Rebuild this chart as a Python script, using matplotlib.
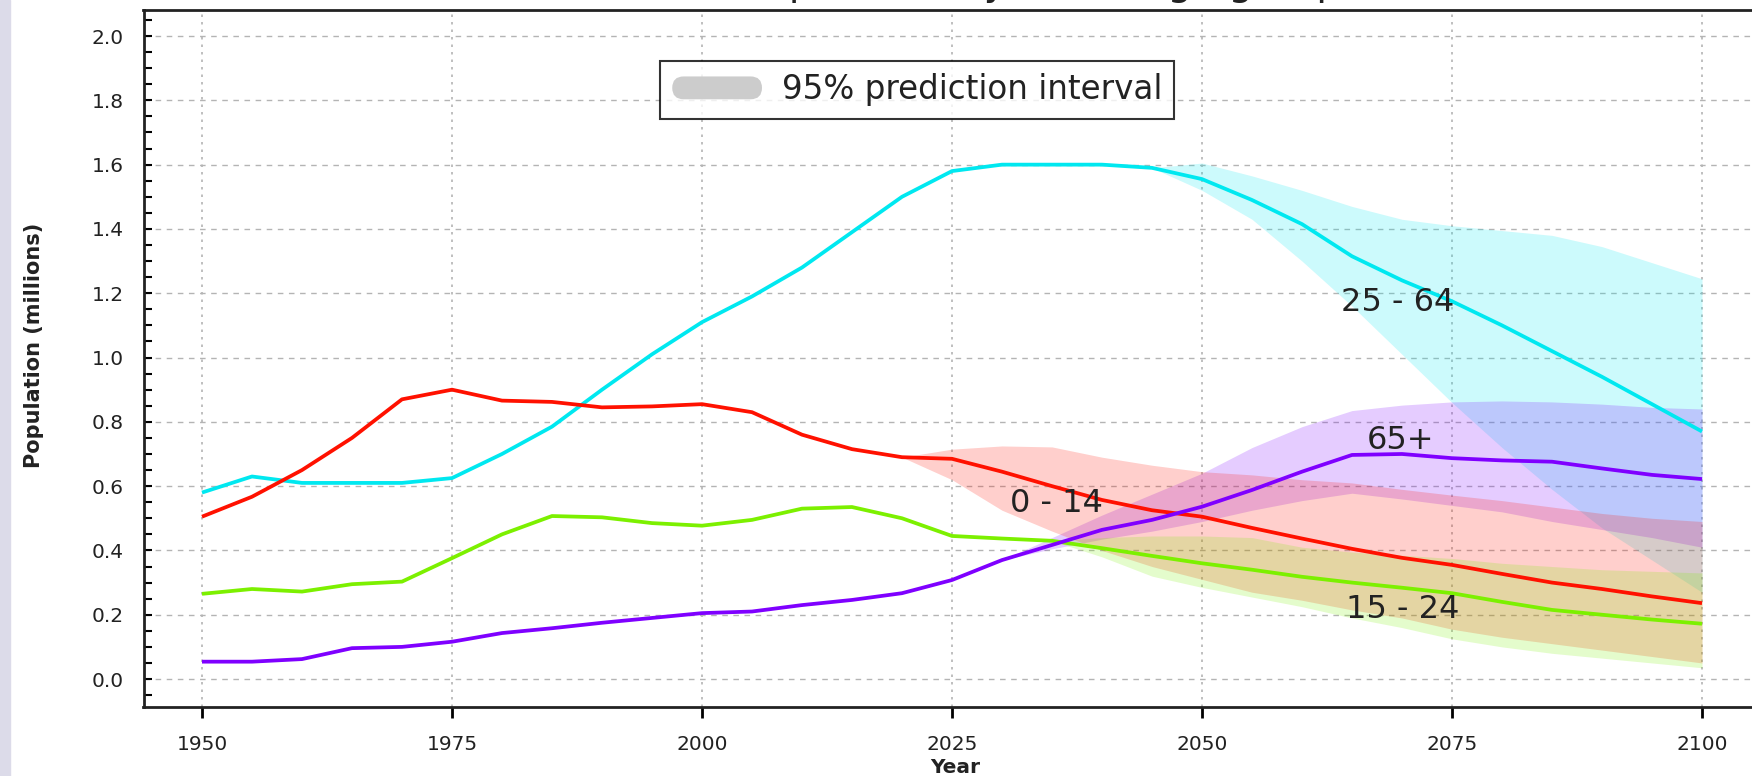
import matplotlib
matplotlib.use("Agg")
import matplotlib.pyplot as plt
from matplotlib.patches import Patch, FancyBboxPatch, Rectangle
from matplotlib.legend_handler import HandlerPatch
from matplotlib.ticker import MultipleLocator

# median projections, millions
years = list(range(1950, 2101, 5))
age_25_64 = [0.58, 0.63, 0.61, 0.61, 0.61, 0.625, 0.70, 0.785, 0.90, 1.01, 1.11,
             1.19, 1.28, 1.39, 1.50, 1.58, 1.60, 1.60, 1.60, 1.59, 1.555, 1.49,
             1.415, 1.315, 1.24, 1.175, 1.10, 1.02, 0.94, 0.855, 0.77]
age_0_14 = [0.505, 0.567, 0.65, 0.75, 0.87, 0.90, 0.866, 0.862, 0.845, 0.848, 0.855,
            0.83, 0.76, 0.715, 0.69, 0.685, 0.645, 0.60, 0.557, 0.525, 0.505, 0.47,
            0.437, 0.405, 0.377, 0.355, 0.327, 0.30, 0.28, 0.257, 0.236]
age_15_24 = [0.265, 0.28, 0.272, 0.295, 0.303, 0.376, 0.45, 0.507, 0.503, 0.485, 0.477,
             0.495, 0.53, 0.535, 0.50, 0.445, 0.437, 0.43, 0.407, 0.383, 0.36, 0.34,
             0.318, 0.30, 0.284, 0.267, 0.24, 0.215, 0.20, 0.185, 0.172]
age_65p = [0.054, 0.054, 0.062, 0.096, 0.10, 0.116, 0.143, 0.158, 0.175, 0.19, 0.205,
           0.21, 0.23, 0.246, 0.267, 0.308, 0.37, 0.417, 0.464, 0.495, 0.536, 0.588,
           0.645, 0.697, 0.70, 0.687, 0.68, 0.676, 0.655, 0.635, 0.622]

# 95% prediction intervals
pi_years_25_64 = list(range(2045, 2101, 5))
pi_lo_25_64 = [1.59, 1.52, 1.43, 1.30, 1.16, 1.01, 0.86, 0.72, 0.59, 0.47, 0.37, 0.27]
pi_hi_25_64 = [1.59, 1.605, 1.565, 1.52, 1.47, 1.43, 1.41, 1.395, 1.38, 1.345, 1.295, 1.245]

pi_years_0_14 = list(range(2020, 2101, 5))
pi_lo_0_14 = [0.69, 0.62, 0.525, 0.46, 0.40, 0.35, 0.31, 0.27, 0.245, 0.215, 0.19,
              0.155, 0.13, 0.11, 0.09, 0.07, 0.05]
pi_hi_0_14 = [0.69, 0.715, 0.725, 0.722, 0.69, 0.665, 0.645, 0.635, 0.62, 0.61, 0.59,
              0.572, 0.555, 0.535, 0.515, 0.50, 0.49]

pi_years_15_24 = list(range(2035, 2101, 5))
pi_lo_15_24 = [0.43, 0.38, 0.32, 0.285, 0.255, 0.225, 0.19, 0.16, 0.125, 0.10, 0.08,
               0.065, 0.05, 0.035]
pi_hi_15_24 = [0.43, 0.44, 0.445, 0.445, 0.44, 0.41, 0.395, 0.385, 0.375, 0.36, 0.35,
               0.34, 0.335, 0.33]

pi_years_65p = list(range(2030, 2101, 5))
pi_lo_65p = [0.37, 0.405, 0.435, 0.46, 0.49, 0.525, 0.555, 0.578, 0.56, 0.54, 0.52,
             0.49, 0.465, 0.44, 0.41]
pi_hi_65p = [0.37, 0.44, 0.51, 0.575, 0.64, 0.72, 0.785, 0.835, 0.852, 0.862, 0.865,
             0.862, 0.855, 0.845, 0.84]

CYAN = "#00e8f0"
RED = "#ff1100"
GREEN = "#7cf000"
PURPLE = "#7f00ff"
TXT = "#222222"

fig = plt.figure(figsize=(17.52, 7.76), dpi=100)
fig.patches.append(Rectangle((0, 0), 10 / 1752, 1, transform=fig.transFigure,
                             color="#dcdbe9", zorder=0))
ax = fig.add_axes([143.5 / 1752, 69 / 776, 1 - 143.5 / 1752, 697 / 776])

bands = [
    (pi_years_25_64, pi_lo_25_64, pi_hi_25_64, CYAN),
    (pi_years_65p, pi_lo_65p, pi_hi_65p, PURPLE),
    (pi_years_0_14, pi_lo_0_14, pi_hi_0_14, RED),
    (pi_years_15_24, pi_lo_15_24, pi_hi_15_24, GREEN),
]
for yrs, lo, hi, c in bands:
    ax.fill_between(yrs, lo, hi, color=c, alpha=0.2, linewidth=0, zorder=2)

for vals, c in [(age_25_64, CYAN), (age_0_14, RED), (age_15_24, GREEN), (age_65p, PURPLE)]:
    ax.plot(years, vals, color=c, linewidth=2.7, zorder=3, solid_capstyle="butt")

lab_kw = dict(fontsize=23, color=TXT, ha="center", va="center", zorder=4)
ax.text(2069.6, 1.17, "25 - 64", **lab_kw)
ax.text(2069.9, 0.743, "65+", **lab_kw)
ax.text(2035.4, 0.547, "0 - 14", **lab_kw)
ax.text(2070.1, 0.215, "15 - 24", **lab_kw)

ax.set_xlim(1944.15, 2105)
ax.set_ylim(-0.087, 2.081)
ax.set_xticks(range(1950, 2101, 25))
ax.yaxis.set_major_locator(MultipleLocator(0.2))
ax.yaxis.set_minor_locator(MultipleLocator(0.05))
ax.yaxis.set_major_formatter(matplotlib.ticker.FormatStrFormatter("%.1f"))

ax.grid(axis="y", which="major", color="#b4b4b4", linestyle=(0, (4, 4)), linewidth=1.0)
ax.grid(axis="x", which="major", color="#b4b4b4", linestyle=(0, (1.5, 3)), linewidth=1.2)
ax.set_axisbelow(True)

ax.tick_params(axis="y", which="both", direction="in", length=6, width=1.5,
               labelsize=14.5, labelcolor=TXT, pad=14)
ax.tick_params(axis="x", which="major", direction="out", length=8, width=2,
               labelsize=14.5, labelcolor=TXT, pad=12)

for side in ["left", "bottom", "top"]:
    ax.spines[side].set_linewidth(2)
    ax.spines[side].set_color("#222222")
ax.spines["right"].set_visible(False)

ax.set_xlabel("Year", fontsize=14.5, fontweight="bold", color=TXT)
ax.xaxis.label.set_va("center")
ax.xaxis.set_label_coords(0.5045, -0.0875)
ax.set_ylabel("Population (millions)", fontsize=15, fontweight="bold", color=TXT)
ax.yaxis.label.set_va("center")
ax.yaxis.set_label_coords(-0.068, 0.519)


def round_patch(legend, orig_handle, xdescent, ydescent, width, height, fontsize):
    return FancyBboxPatch((-xdescent, -ydescent), width, height,
                          boxstyle="round,pad=0,rounding_size=%f" % (height / 2))


handle = Patch(facecolor="#cccccc", edgecolor="none", label="95% prediction interval")
leg = ax.legend(handles=[handle], loc="upper left", bbox_to_anchor=(0.321, 0.927),
                borderaxespad=0, fontsize=23.5, frameon=True, fancybox=False,
                handlelength=2.75, handleheight=0.7, handletextpad=0.6, borderpad=0.38,
                handler_map={Patch: HandlerPatch(patch_func=round_patch)})
leg.get_frame().set_edgecolor("black")
leg.get_frame().set_linewidth(1.5)
for t in leg.get_texts():
    t.set_color(TXT)

# title sits mostly above the cropped top edge
fig.text(743 / 1752, 1 + 5 / 776, "Population by broad age groups", fontsize=28,
         color=TXT, ha="left", va="baseline")

fig.savefig("out.png", dpi=100)
